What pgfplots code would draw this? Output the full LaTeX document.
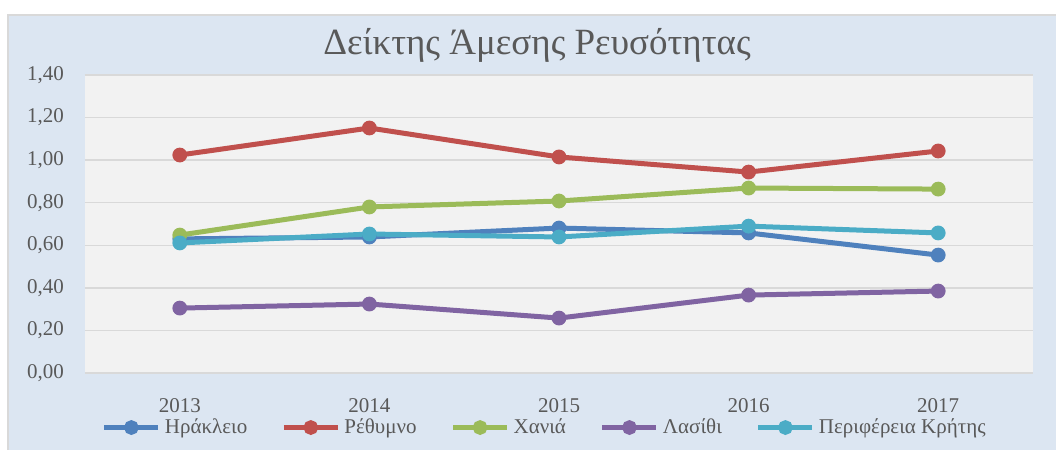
\documentclass[border=0pt]{standalone}
\usepackage{fontspec}
\setmainfont{Liberation Serif}
\usepackage{pgfplots}
\pgfplotsset{compat=1.18}
\definecolor{cBlue}{HTML}{4F81BD}
\definecolor{cRed}{HTML}{C0504D}
\definecolor{cGreen}{HTML}{9BBB59}
\definecolor{cPurple}{HTML}{8064A2}
\definecolor{cCyan}{HTML}{4BACC6}
\definecolor{outerbg}{HTML}{DCE6F2}
\definecolor{plotbg}{HTML}{F2F2F2}
\definecolor{gridc}{HTML}{D9D9D9}
\definecolor{txt}{HTML}{595959}
\begin{document}
\begin{tikzpicture}
\useasboundingbox (0,0) rectangle (528pt,225pt);
\fill[white] (0,0) rectangle (528pt,225pt);
\draw[fill=outerbg,draw=gridc,line width=0.8pt] (4pt,-1pt) rectangle (529pt,217.5pt);
\begin{axis}[
  scale only axis,
  width=474pt, height=149pt,
  at={(42.5pt,38.5pt)}, anchor=south west,
  xmin=-0.5, xmax=4.5,
  ymin=0, ymax=1.4,
  xtick={0,1,2,3,4},
  xticklabels={2013,2014,2015,2016,2017},
  ytick={0,0.2,0.4,0.6,0.8,1.0,1.2,1.4},
  yticklabel style={/pgf/number format/use comma,/pgf/number format/fixed,/pgf/number format/fixed zerofill,/pgf/number format/precision=2,/pgf/number format/assume math mode=true},
  yticklabel style={font=\fontsize{10.5}{12}\selectfont, text=txt, xshift=-7pt},
  xticklabel style={font=\fontsize{10.5}{12}\selectfont, text=txt, yshift=-9pt},
  major tick length=0pt,
  axis line style={draw=none},
  ymajorgrids,
  grid style={gridc, line width=0.75pt},
  axis background/.style={fill=plotbg},
  every axis plot/.append style={line width=2.5pt, mark=*, mark size=3.3pt},
  legend columns=5,
  legend style={at={(rel axis cs:0.486,-0.183)}, anchor=center, draw=none, fill=none,
    font=\fontsize{10.5}{12}\selectfont, text=txt,
    /tikz/every even column/.append style={column sep=15pt}},
  legend cell align=left,
  legend image code/.code={\draw[#1,mark=none] (0cm,0cm) -- (0.95cm,0cm);
     \fill[#1,mark=none] (0.475cm,0cm) circle (2.4pt);},
]
\addplot[cBlue, mark options={fill=cBlue, line width=0.8pt}] coordinates {(0,0.630)(1,0.639)(2,0.681)(3,0.658)(4,0.554)};
\addlegendentry{Ηράκλειο}
\addplot[cRed, mark options={fill=cRed, line width=0.8pt}] coordinates {(0,1.024)(1,1.151)(2,1.015)(3,0.944)(4,1.043)};
\addlegendentry{Ρέθυμνο}
\addplot[cGreen, mark options={fill=cGreen, line width=0.8pt}] coordinates {(0,0.648)(1,0.780)(2,0.808)(3,0.869)(4,0.864)};
\addlegendentry{Χανιά}
\addplot[cPurple, mark options={fill=cPurple, line width=0.8pt}] coordinates {(0,0.305)(1,0.324)(2,0.258)(3,0.366)(4,0.385)};
\addlegendentry{Λασίθι}
\addplot[cCyan, mark options={fill=cCyan, line width=0.8pt}] coordinates {(0,0.611)(1,0.653)(2,0.639)(3,0.690)(4,0.658)};
\addlegendentry{Περιφέρεια Κρήτης}
\end{axis}
\node[text=txt, font=\fontsize{18.5}{22}\selectfont] at (268.5pt,202.5pt) {Δείκτης Άμεσης Ρευσότητας};
\end{tikzpicture}
\end{document}
